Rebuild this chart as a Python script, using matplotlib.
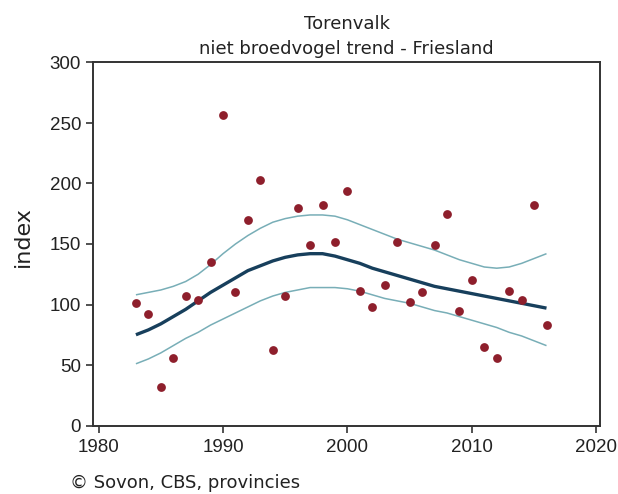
import matplotlib
matplotlib.use("Agg")
import matplotlib.pyplot as plt
import numpy as np

years = list(range(1983, 2017))
index_values = [101, 92, 32, 56, 107, 104, 135, 257, 110, 170, 203, 62, 107, 180,
                149, 182, 152, 194, 111, 98, 116, 152, 102, 110, 149, 175, 95, 120,
                65, 56, 111, 104, 182, 83]
trend = [75, 79, 84, 90, 96, 103, 110, 116, 122, 128, 132, 136, 139, 141, 142, 142,
         140, 137, 134, 130, 127, 124, 121, 118, 115, 113, 111, 109, 107, 105, 103,
         101, 99, 97]
upper = [108, 110, 112, 115, 119, 125, 133, 142, 150, 157, 163, 168, 171, 173, 174,
         174, 173, 170, 166, 162, 158, 154, 151, 148, 145, 141, 137, 134, 131, 130,
         131, 134, 138, 142]
lower = [51, 55, 60, 66, 72, 77, 83, 88, 93, 98, 103, 107, 110, 112, 114, 114, 114,
         113, 111, 108, 105, 103, 101, 98, 95, 93, 90, 87, 84, 81, 77, 74, 70, 66]
x_ticks = [1980, 1990, 2000, 2010, 2020]
y_ticks = [0, 50, 100, 150, 200, 250, 300]

W, H = 618, 494
fig = plt.figure(figsize=(W/100, H/100), dpi=100)
ax = fig.add_axes([93/W, 1-425.5/H, (600-93)/W, (425.5-62.5)/H])

ax.plot(years, upper, color="#78aeb7", lw=1.1, solid_capstyle="butt")
ax.plot(years, lower, color="#78aeb7", lw=1.1, solid_capstyle="butt")
ax.plot(years, trend, color="#173f5c", lw=2.4, solid_capstyle="butt")
ax.scatter(years, index_values, s=40, color="#8e1f2c", zorder=5, linewidths=0)

ax.set_xlim(1979.55, 2020.3)
ax.set_ylim(0, 300)
ax.set_xticks(x_ticks)
ax.set_yticks(y_ticks)
for s in ax.spines.values():
    s.set_color("#333333")
    s.set_linewidth(1.4)
ax.tick_params(direction="out", length=5, width=1.2, color="#333333",
               labelsize=13.5, labelcolor="#222222")
ax.tick_params(axis="y", pad=3.5)
ax.tick_params(axis="x", pad=4.5)
for lab in ax.get_xticklabels() + ax.get_yticklabels():
    lab.set_family("Liberation Sans")

fig.text(23/W, 1-237/H, "index", rotation=90, ha="center", va="center",
         fontsize=16, family="DejaVu Sans", color="#222222")
fig.text(346.5/W, 1-29/H, "Torenvalk", ha="center", va="baseline",
         fontsize=13, family="DejaVu Sans", color="#222222")
fig.text(346.5/W, 1-54/H, "niet broedvogel trend - Friesland", ha="center",
         va="baseline", fontsize=13, family="DejaVu Sans", color="#222222")
fig.text(70/W, 1-488/H, "© Sovon, CBS, provincies", ha="left", va="baseline",
         fontsize=13, family="DejaVu Sans", color="#222222")

fig.savefig("out.png", dpi=100)
